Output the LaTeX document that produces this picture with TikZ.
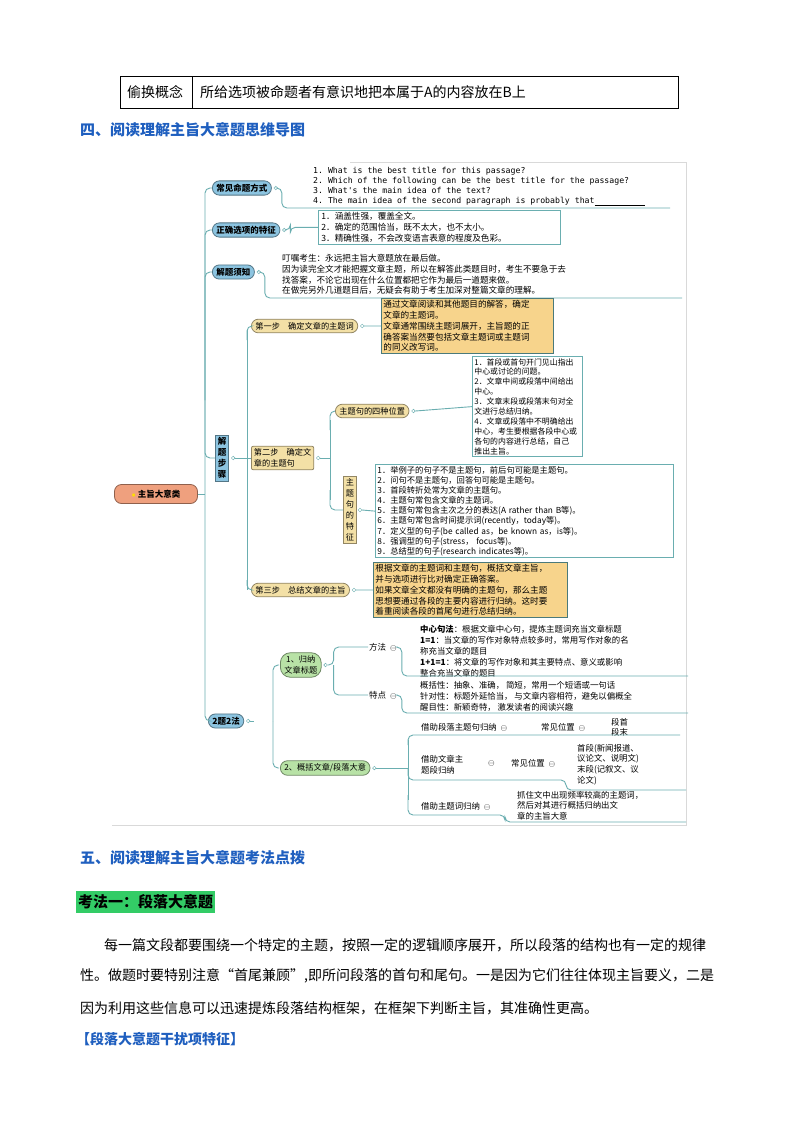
\documentclass[tikz,border=0pt]{standalone}
\usepackage{fontspec}
\setmainfont{Noto Sans CJK SC}
\setmonofont{DejaVu Sans Mono}
\definecolor{lnk}{HTML}{6AAEB0}
\definecolor{pblue}{HTML}{8CC4E0}
\definecolor{ptan}{HTML}{F3E0A6}
\definecolor{porg}{HTML}{F7D48C}
\definecolor{pgreen}{HTML}{B8E2A6}
\definecolor{proot}{HTML}{EFA07E}
\definecolor{hblue}{HTML}{1F5FBF}
\definecolor{hgreen}{HTML}{33CC66}
\tikzset{
  body/.style={font=\fontsize{14}{16}\selectfont, anchor=west, inner sep=0},
  pill/.style={rounded corners=7pt, draw=#1!60!black, line width=0.8pt, inner xsep=4pt, inner ysep=3pt, font=\fontsize{8.5}{10}\selectfont\bfseries},
  sm/.style={font=\fontsize{8.6}{10.8}\selectfont, align=left, inner sep=2pt, anchor=north west},
  en/.style={font=\fontsize{8.2}{10}\selectfont\ttfamily, align=left, inner sep=0, anchor=north west},
  wbox/.style={draw=lnk, line width=0.8pt},
  obox/.style={draw=lnk!70!black, fill=porg, line width=0.8pt},
  con/.style={draw=lnk, line width=0.9pt, rounded corners=5pt},
  dot/.style={circle, draw=lnk, fill=white, inner sep=1.3pt},
}
\begin{document}
\begin{tikzpicture}[x=1pt,y=-1pt]
\useasboundingbox[fill=white] (0,0) rectangle (800,1132);
% table row
\draw[line width=0.6pt] (120,76) rectangle (678,108);
\draw[line width=0.6pt] (192,76) -- (192,108);
\node[body] (t1) at (127,92) {偷换概念};
\node[body] (t2) at (200,92) {所给选项被命题者有意识地把本属于A的内容放在B上};
\node[body, font=\fontsize{15}{17}\selectfont\bfseries, text=hblue] (h4) at (80,130) {四、阅读理解主旨大意题思维导图};

% mind map frame
\draw[gray!30, line width=0.6pt] (350,162) -- (686,162) -- (686,825) -- (112,825);

% root
\node[pill=proot, fill=proot, minimum height=19pt, minimum width=83pt] (root) at (156,494) {\textcolor{yellow!80!orange}{$\bullet$}\ 主旨大意类};
\draw[con] (root.east) -- (205,494);
% level 1
\node[pill=pblue, fill=pblue, anchor=west] (b1) at (212,188) {常见命题方式};
\node[pill=pblue, fill=pblue, anchor=west] (b2) at (212,230) {正确选项的特征};
\node[pill=pblue, fill=pblue, anchor=west] (b3) at (212,272) {解题须知};
\node[draw=pblue!60!black, fill=pblue, line width=0.8pt, font=\fontsize{8.5}{11}\selectfont\bfseries, align=center, inner sep=2.5pt] (b4) at (222,458) {解\\题\\步\\骤};
\node[pill=pblue, fill=pblue, anchor=west] (b5) at (208,721) {2题2法};
\draw[con] (b1.west) -| (205,200) -- (205,709) |- (b5.west);
\foreach \n in {b2,b3,b4} \draw[con] (205,400) |- (\n.west);

% branch 1
\node[en] (e1) at (313,167) {1. What is the best title for this passage?\\2. Which of the following can be the best title for the passage?\\3. What's the main idea of the text?\\4. The main idea of the second paragraph is probably that\underline{\hspace{50pt}}};
\node[dot] (d1) at ([xshift=4pt]b1.east) {};
\draw[con] (d1.east) -- ++(4,0) |- (310,208) -- (670,208);

% branch 2
\node[sm, wbox, minimum width=242pt, text width=236pt] (e2) at (318,210) {1．涵盖性强，覆盖全文。\\2．确定的范围恰当，既不太大，也不太小。\\3．精确性强，不会改变语言表意的程度及色彩。};
\node[dot] (d2) at ([xshift=4pt]b2.east) {};
\draw[con] (d2.east) -- ++(4,0) |- (e2.west);

% branch 3
\node[sm] (e3) at (280,252) {叮嘱考生：永远把主旨大意题放在最后做。\\因为读完全文才能把握文章主题，所以在解答此类题目时，考生不要急于去\\找答案，不论它出现在什么位置都把它作为最后一道题来做。\\在做完另外几道题目后，无疑会有助于考生加深对整篇文章的理解。};
\node[dot] (d3) at ([xshift=4pt]b3.east) {};
\draw[con] (d3.east) -- ++(4,0) |- (290,298) -- (682,298);

% branch 4 subtree
\node[dot] (d4) at ([xshift=4pt]b4.east) {};
\draw[con] (d4.east) -- (247,458);
\draw[con] (247,330) -- (247,590);
\node[pill=ptan, fill=ptan, anchor=west, font=\fontsize{8.2}{10}\selectfont] (s1) at (251,326) {第一步\quad 确定文章的主题词};
\node[draw=ptan!60!black, fill=ptan, line width=0.8pt, rounded corners=2pt, font=\fontsize{8.2}{11}\selectfont, align=left, inner sep=2.5pt, anchor=west] (s2) at (251,458) {第二步\quad 确定文\\章的主题句};
\node[pill=ptan, fill=ptan, anchor=west, font=\fontsize{8.2}{10}\selectfont] (s3) at (251,590) {第三步\quad 总结文章的主旨};
\draw[con] (247,340) |- (s1.west);
\draw[con] (247,580) |- (s3.west);
\draw[con] (247,458) -- (s2.west);

\node[sm, obox, text width=168pt] (o1) at (381,298) {通过文章阅读和其他题目的解答，确定\\文章的主题词。\\文章通常围绕主题词展开，主旨题的正\\确答案当然要包括文章主题词或主题词\\的同义改写词。};
\node[dot] (ds1) at ([xshift=4pt]s1.east) {};
\draw[con] (ds1.east) -- (o1.west);

\node[dot] (ds2) at ([xshift=4pt]s2.east) {};
\draw[con] (ds2.east) -- (330,458);
\draw[con] (330,420) -- (330,500);
\node[pill=ptan, fill=ptan, anchor=west, font=\fontsize{8.2}{10}\selectfont] (q1) at (335,411) {主题句的四种位置};
\node[draw=ptan!60!black, fill=ptan, line width=0.8pt, font=\fontsize{8.2}{11}\selectfont, align=center, inner sep=2.5pt] (q2) at (350,510) {主\\题\\句\\的\\特\\征};
\draw[con] (330,430) |- (q1.west);
\draw[con] (330,490) |- (q2.west);

\node[sm, wbox, text width=106pt, font=\fontsize{7.9}{9.9}\selectfont] (w1) at (472,356) {1．首段或首句开门见山指出\\中心或讨论的问题。\\2．文章中间或段落中间给出\\中心。\\3．文章末段或段落末句对全\\文进行总结归纳。\\4．文章或段落中不明确给出\\中心，考生要根据各段中心或\\各句的内容进行总结，自己\\推出主旨。};
\node[dot] (dq1) at ([xshift=4pt]q1.east) {};
\draw[con] (dq1.east) -- (w1.west);

\node[sm, wbox, text width=294pt, font=\fontsize{8.3}{10.1}\selectfont] (w2) at (375,464) {1．举例子的句子不是主题句，前后句可能是主题句。\\2．问句不是主题句，回答句可能是主题句。\\3．首段转折处常为文章的主题句。\\4．主题句常包含文章的主题词。\\5．主题句常包含主次之分的表达(A rather than B等)。\\6．主题句常包含时间提示词(recently，today等)。\\7．定义型的句子(be called as，be known as，is等)。\\8．强调型的句子(stress，\ focus等)。\\9．总结型的句子(research indicates等)。};
\node[dot] (dq2) at ([xshift=3pt]q2.east) {};
\draw[con] (dq2.east) -- (w2.west);

\node[sm, obox, text width=190pt] (o3) at (373,562) {根据文章的主题词和主题句，概括文章主旨，\\并与选项进行比对确定正确答案。\\如果文章全文都没有明确的主题句，那么主题\\思想要通过各段的主要内容进行归纳。这时要\\着重阅读各段的首尾句进行总结归纳。};
\node[dot] (ds3) at ([xshift=4pt]s3.east) {};
\draw[con] (ds3.east) -- (o3.west);

% branch 5 subtree
\node[dot] (d5) at ([xshift=4pt]b5.east) {};
\draw[con] (d5.east) -- ++(4,0);
\draw[con] (273,721) |- (279,665);
\draw[con] (273,721) |- (279,768);
\node[pill=pgreen, fill=pgreen, anchor=west, align=center, font=\fontsize{8.2}{11}\selectfont, rounded corners=10pt] (g1) at (280,665) {1、归纳\\文章标题};
\node[pill=pgreen, fill=pgreen, anchor=west, font=\fontsize{8.2}{10}\selectfont] (g2) at (280,768) {2、概括文章/段落大意};

\node[dot] (dg1) at ([xshift=4pt]g1.east) {};
\node[font=\fontsize{8.5}{9}\selectfont, anchor=west, inner sep=1pt] (m1) at (368,647) {方法\ \ $\ominus$};
\node[font=\fontsize{8.5}{9}\selectfont, anchor=west, inner sep=1pt] (m2) at (368,695) {特点\ \ $\ominus$};
\draw[con] (dg1.east) -- ++(6,0) |- (m1.west);
\draw[con] (dg1.east) ++(6,0) |- (m2.west);
\node[sm, font=\fontsize{8.4}{11}\selectfont] (x1) at (418,623) {\textbf{中心句法}：根据文章中心句，提炼主题词充当文章标题\\\textbf{1=1}：当文章的写作对象特点较多时，常用写作对象的名\\称充当文章的题目\\\textbf{1+1=1}：将文章的写作对象和其主要特点、意义或影响\\整合充当文章的题目};
\draw[con] (m1.east) -- ++(4,0) |- (420,676) -- (688,676);
\node[sm, font=\fontsize{8.4}{11}\selectfont] (x2) at (418,679) {概括性：抽象、准确，\ 简短，常用一个短语或一句话\\针对性：标题外延恰当，\ 与文章内容相符，避免以偏概全\\醒目性：新颖奇特，\ 激发读者的阅读兴趣};
\draw[con] (m2.east) -- ++(4,0) |- (420,713) -- (688,713);

\node[dot] (dg2) at ([xshift=4pt]g2.east) {};
\draw[con] (dg2.east) -- (408,768);
\draw[con] (408,740) -- (408,800);
\node[font=\fontsize{8.4}{10}\selectfont, anchor=west, inner sep=1pt] (k1) at (420,727) {借助段落主题句归纳\ \ $\ominus$};
\node[font=\fontsize{8.4}{10}\selectfont, anchor=west, inner sep=1pt] (k1b) at (540,727) {常见位置\ \ $\ominus$};
\node[font=\fontsize{8.4}{10}\selectfont, align=left, anchor=west, inner sep=1pt] (k1c) at (610,727) {段首\\段末};
\draw[con] (408,745) |- (420,735) -- (680,735);
\node[font=\fontsize{8.4}{10.5}\selectfont, anchor=west, align=left, inner sep=1pt] (k2) at (420,765) {借助文章主\\题段归纳};
\node[font=\fontsize{8.4}{10}\selectfont, anchor=west, inner sep=1pt] at (487,763) {$\ominus$};
\node[font=\fontsize{8.4}{10}\selectfont, anchor=west, inner sep=1pt] (k2b) at (510,763) {常见位置\ \ $\ominus$};
\node[sm, font=\fontsize{8.4}{10.6}\selectfont] (k2c) at (575,742) {首段(新闻报道、\\议论文、说明文)\\末段(记叙文、议\\论文)};
\draw[con] (408,768) |- (420,780) -- (566,780) |- (580,790) -- (686,790);
\node[font=\fontsize{8.4}{10}\selectfont, anchor=west, inner sep=1pt] (k3) at (420,806) {借助主题词归纳\ \ $\ominus$};
\node[sm, font=\fontsize{8.4}{10.6}\selectfont] (k3c) at (515,789) {抓住文中出现频率较高的主题词，\\然后对其进行概括归纳出文\\章的主旨大意};
\draw[con] (408,795) |- (420,815) -- (505,815) |- (515,822) -- (686,822);

% section 5
\node[body, font=\fontsize{15}{17}\selectfont\bfseries, text=hblue] (h5) at (80,858) {五、阅读理解主旨大意题考法点拨};
\node[body, font=\fontsize{15}{17}\selectfont\bfseries, fill=hgreen, inner xsep=2pt, inner ysep=4pt] (k) at (76,902) {考法一：段落大意题};
\node[body] (p1) at (104,945) {每一篇文段都要围绕一个特定的主题，按照一定的逻辑顺序展开，所以段落的结构也有一定的规律};
\node[body] (p2) at (80,976) {性。做题时要特别注意“首尾兼顾”,即所问段落的首句和尾句。一是因为它们往往体现主旨要义，二是};
\node[body] (p3) at (80,1008) {因为利用这些信息可以迅速提炼段落结构框架，在框架下判断主旨，其准确性更高。};
\node[body, font=\fontsize{14}{16}\selectfont\bfseries, text=hblue] (h6) at (76,1039) {【段落大意题干扰项特征】};
\end{tikzpicture}
\end{document}
